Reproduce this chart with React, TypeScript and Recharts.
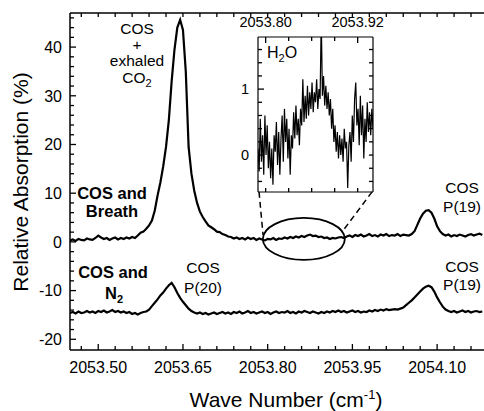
import React from "react";
import { LineChart, Line, XAxis, YAxis, ReferenceDot, ReferenceLine } from "recharts";

const FONT = '"Liberation Sans", Arial, Helvetica, sans-serif';

// main spectrum: evenly sampled wave numbers
const WAVE_START = 2053.45;
const WAVE_STEP = 0.005;

// COS + breath trace (%)
const breath = [
  0.3, 0.5, 0.2, 0.6, 0.4, 0.3, 0.7, 0.5, 0.4, 0.8,
  1.3, 0.9, 0.6, 0.8, 0.4, 0.7, 0.9, 0.5, 0.8, 0.6,
  0.9, 0.7, 1.0, 0.8, 1.3,
  1.9, 2.1, 2.7, 3.4, 4.4, 6.4, 9.5, 12.2, 15.5, 19.5,
  25, 33, 39.5, 44, 45.6, 43.5, 35, 19.5, 14, 10.5,
  8, 6.2, 5.1, 4.2, 3.4, 3.0, 2.6, 2.1, 2.0, 1.6,
  1.4, 1.1, 1.0, 0.7, 0.9, 0.6, 0.8, 0.5, 0.9, 0.6,
  0.8, 0.4, 0.7, 0.5, 0.3, 0.6, 0.5, 0.8, 0.4, 0.7,
  0.6, 0.9, 0.7, 1.0, 0.8, 1.1, 0.9, 1.2, 1.0, 1.3,
  1.5, 1.2, 1.3, 1.0, 1.1, 0.8, 0.9, 0.6, 0.8, 0.7,
  0.9, 1.0, 0.8, 1.1, 1.3, 1.0, 1.4, 1.2, 1.5, 1.1,
  1.3, 1.6, 1.2, 1.4, 1.1, 1.5, 1.3, 1.6, 1.2, 1.4,
  1.3, 1.6, 1.2, 1.5, 1.4, 1.3,
  1.6, 2.2, 3.5, 4.8, 5.8, 6.4, 6.5, 6.0, 4.8, 3.2, 2.2, 1.6,
  1.3, 1.5, 1.1, 1.4, 1.2, 1.5, 1.3, 1.1, 1.4, 1.6, 1.3, 1.5, 1.7, 1.4,
];

// COS + N2 trace (%)
const nitrogen = [
  -14.6, -14.4, -14.7, -14.3, -14.6, -14.5, -14.2, -14.5, -14.3, -14.6,
  -14.2, -14.4, -14.1, -14.5, -14.3, -14.0, -14.4, -14.2, -14.5, -14.3,
  -14.6, -14.4, -14.8, -14.6, -14.9, -14.6,
  -14.4, -14.3, -13.9, -13.2, -12.5, -11.8, -11.0, -10.4, -9.6, -8.9,
  -8.4, -9.3, -10.5, -11.5, -12.3, -13.0, -13.7, -14.2, -14.5, -14.7,
  -14.5, -14.8, -14.6, -14.9, -14.7, -14.5, -14.8, -14.6, -14.4, -14.7,
  -14.5, -14.8, -14.4, -14.6, -14.3, -14.7, -14.5, -14.2, -14.6, -14.4,
  -14.7, -14.5, -14.3, -14.6, -14.4, -14.8, -14.5, -14.3, -14.6, -14.4,
  -14.5, -14.2, -14.6, -14.4, -14.7, -14.3, -14.5, -14.2, -14.4, -14.6,
  -14.3, -14.5, -14.7, -14.4, -14.6, -14.3, -14.5, -14.2, -14.4, -14.1,
  -14.4, -14.2, -14.5, -14.3, -14.1, -14.4, -14.2, -14.5, -14.3, -14.4,
  -14.1, -14.3, -14.0, -14.2, -13.9, -14.1, -13.8, -14.0, -13.9, -13.8, -13.9,
  -13.7, -13.5, -13.0, -12.5, -12.0, -11.4, -10.8, -10.2, -9.6, -9.2, -9.0, -9.3,
  -10.2, -11.4, -12.4, -13.3, -13.9, -14.2,
  -14.4, -14.2, -14.5, -14.3, -14.1, -14.4, -14.2, -14.5, -14.3, -14.2, -14.4, -14.3,
];

// inset: H2O line, zoomed
const INSET_START = 2053.79;
const INSET_STEP = 0.0015;
const water = [
  0.1, -0.25, 0.55, -0.1, 0.3, -0.3, 0.6, 0.0, 0.45, -0.2,
  0.2, -0.35, 0.1, -0.45, 0.3, 0.05, 0.5, -0.15, 0.35, -0.3,
  0.25, 0.6, -0.1, 0.7, 0.2, 0.55, -0.05, 0.4, -0.3, 0.3,
  0.1, 0.65, 0.25, 0.75, 0.3, 0.55, 0.15, 0.7, 0.45, 1.15,
  0.5, 0.9, 0.55, 1.05, 0.6, 0.95, 0.7, 1.1, 0.65, 0.95,
  0.8, 1.15, 0.7, 1.0, 0.85, 2.1, 0.9, 1.2, 0.75, 1.05,
  0.7, 0.95, 0.6, 0.85, 0.4, 0.7, 0.2, 0.45, 0.05, 0.35,
  -0.05, 0.3, 0.0, 0.25, -0.1, 0.4, 0.1, 0.2, -0.5, 0.15,
  0.35, -0.1, 0.6, 0.2, 0.85, 1.1, 0.45, 0.7, 0.15, 0.9,
  0.3, 0.75, -0.05, 0.55, 0.2, 0.8, 0.35, 0.65, 0.3, 0.7, 0.4,
];

const X_DOMAIN = [2053.45, 2054.183];
const Y_DOMAIN = [-22.2, 47.0];
const X_TICKS = [
  2053.47, 2053.5, 2053.53, 2053.56, 2053.59, 2053.62, 2053.65, 2053.68,
  2053.71, 2053.74, 2053.77, 2053.8, 2053.83, 2053.86, 2053.89, 2053.92,
  2053.95, 2053.98, 2054.01, 2054.04, 2054.07, 2054.1, 2054.13, 2054.16,
];
const X_LABELS = [2053.5, 2053.65, 2053.8, 2053.95, 2054.1];
const Y_TICKS = [
  -20, -18, -16, -14, -12, -10, -8, -6, -4, -2, 0, 2, 4, 6, 8, 10, 12, 14, 16,
  18, 20, 22, 24, 26, 28, 30, 32, 34, 36, 38, 40, 42, 44, 46,
];
const Y_LABELS = [-20, -10, 0, 10, 20, 30, 40];

const INSET_X_DOMAIN = [2053.79, 2053.94];
const INSET_Y_DOMAIN = [-0.56, 1.79];
const INSET_X_TICKS = [2053.8, 2053.83, 2053.86, 2053.89, 2053.92];
const INSET_X_LABELS = [2053.8, 2053.92];
const INSET_Y_TICKS = [-0.4, -0.2, 0, 0.2, 0.4, 0.6, 0.8, 1, 1.2, 1.4, 1.6];
const INSET_Y_LABELS = [0, 1];

// zoom ellipse and connector lines (data coords)
const ELLIPSE_CENTER = { x: 2053.864, y: 0.6 };
const CONNECTORS = [
  [{ x: 2053.7847, y: 10.27 }, { x: 2053.7918, y: 1.44 }],
  [{ x: 2053.9848, y: 10.27 }, { x: 2053.9317, y: 2.05 }],
];

const mainRows = breath.map((b, i) => ({
  x: WAVE_START + i * WAVE_STEP,
  breath: b,
  n2: nitrogen[i],
}));
const insetRows = water.map((w, i) => ({ x: INSET_START + i * INSET_STEP, h2o: w }));

const has = (list: number[], v: number) => list.some((l) => Math.abs(l - v) < 1e-6);

function makeXTick(dir: number, labels: number[] | null, fontSize: number, labelOffset: number) {
  return (props: any) => {
    const { x, y, payload } = props;
    const major = labels ? has(labels, payload.value) : false;
    const len = major ? 6 : 4;
    return (
      <g>
        <line x1={x} x2={x} y1={y} y2={y + dir * len} stroke="#000" strokeWidth={1.3} />
        {major && (
          <text x={x} y={y + labelOffset} textAnchor="middle" fontSize={fontSize} fontFamily={FONT} fill="#000">
            {payload.value.toFixed(2)}
          </text>
        )}
      </g>
    );
  };
}

function makeYTick(dir: number, labels: number[] | null, fontSize: number, gap: number) {
  return (props: any) => {
    const { x, y, payload } = props;
    const major = labels ? has(labels, payload.value) : false;
    const len = major ? 6 : 4;
    return (
      <g>
        <line x1={x} x2={x + dir * len} y1={y} y2={y} stroke="#000" strokeWidth={1.3} />
        {major && (
          <text x={x - gap} y={y + fontSize * 0.36} textAnchor="end" fontSize={fontSize} fontFamily={FONT} fill="#000">
            {payload.value}
          </text>
        )}
      </g>
    );
  };
}

function Note({ x, y, children, bold = false, size = 15.5 }: any) {
  return (
    <div
      style={{
        position: "absolute",
        left: x,
        top: y,
        transform: "translate(-50%, -50%)",
        fontFamily: FONT,
        fontSize: size,
        fontWeight: bold ? 700 : 400,
        lineHeight: 1,
        whiteSpace: "nowrap",
        color: "#000",
      }}
    >
      {children}
    </div>
  );
}

const axisStroke = { stroke: "#000", strokeWidth: 1.5 };
const insetStroke = { stroke: "#000", strokeWidth: 1.2 };

export default function App() {
  return (
    <div style={{ position: "fixed", left: 0, top: 0, width: 484, height: 411, background: "#fff", overflow: "hidden" }}>
      <div style={{ position: "absolute", left: 0, top: 0 }}>
        <LineChart width={484} height={411} data={mainRows} margin={{ top: 12, right: 0, bottom: 0, left: 0 }}>
          <XAxis
            type="number"
            dataKey="x"
            domain={X_DOMAIN}
            allowDataOverflow
            ticks={X_TICKS}
            interval={0}
            height={61}
            tickSize={0}
            tickMargin={0}
            tickLine={false}
            axisLine={axisStroke}
            tick={makeXTick(-1, X_LABELS, 16, 23)}
          />
          <XAxis
            xAxisId="top"
            orientation="top"
            type="number"
            dataKey="x"
            domain={X_DOMAIN}
            allowDataOverflow
            ticks={X_TICKS}
            interval={0}
            height={1}
            tickSize={0}
            tickMargin={0}
            tickLine={false}
            axisLine={axisStroke}
            tick={makeXTick(1, null, 16, 0)}
          />
          <YAxis
            type="number"
            domain={Y_DOMAIN}
            allowDataOverflow
            ticks={Y_TICKS}
            interval={0}
            width={70}
            tickSize={0}
            tickMargin={0}
            tickLine={false}
            axisLine={axisStroke}
            tick={makeYTick(1, Y_LABELS, 16, 8)}
          />
          <Line dataKey="breath" type="linear" stroke="#000" strokeWidth={2.2} dot={false} activeDot={false} isAnimationActive={false} />
          <Line dataKey="n2" type="linear" stroke="#000" strokeWidth={2.2} dot={false} activeDot={false} isAnimationActive={false} />
          <ReferenceDot
            x={ELLIPSE_CENTER.x}
            y={ELLIPSE_CENTER.y}
            r={0}
            ifOverflow="visible"
            shape={(p: any) => <ellipse cx={p.cx} cy={p.cy} rx={41} ry={21} fill="none" stroke="#000" strokeWidth={1.8} />}
          />
          {CONNECTORS.map((seg, i) => (
            <ReferenceLine key={i} segment={seg} stroke="#000" strokeWidth={1.5} strokeDasharray="6 4" ifOverflow="visible" />
          ))}
        </LineChart>
      </div>

      <div style={{ position: "absolute", left: 228, top: 8 }}>
        <LineChart width={180} height={189} data={insetRows} margin={{ top: 28, right: 34, bottom: 4, left: 0 }}>
          <XAxis
            xAxisId="t"
            orientation="top"
            type="number"
            dataKey="x"
            domain={INSET_X_DOMAIN}
            allowDataOverflow
            ticks={INSET_X_TICKS}
            interval={0}
            height={1}
            tickSize={0}
            tickMargin={0}
            tickLine={false}
            axisLine={insetStroke}
            tick={makeXTick(1, INSET_X_LABELS, 14.5, -10)}
          />
          <XAxis
            xAxisId="b"
            orientation="bottom"
            type="number"
            dataKey="x"
            domain={INSET_X_DOMAIN}
            allowDataOverflow
            ticks={INSET_X_TICKS}
            interval={0}
            height={1}
            tickSize={0}
            tickMargin={0}
            tickLine={false}
            axisLine={insetStroke}
            tick={makeXTick(-1, null, 14.5, 0)}
          />
          <YAxis
            yAxisId="l"
            type="number"
            domain={INSET_Y_DOMAIN}
            allowDataOverflow
            ticks={INSET_Y_TICKS}
            interval={0}
            width={30}
            tickSize={0}
            tickMargin={0}
            tickLine={false}
            axisLine={insetStroke}
            tick={makeYTick(1, INSET_Y_LABELS, 14.5, 9)}
          />
          <YAxis
            yAxisId="r"
            orientation="right"
            type="number"
            domain={INSET_Y_DOMAIN}
            allowDataOverflow
            ticks={INSET_Y_TICKS}
            interval={0}
            width={1}
            tickSize={0}
            tickMargin={0}
            tickLine={false}
            axisLine={insetStroke}
            tick={makeYTick(-1, null, 14.5, 0)}
          />
          <Line xAxisId="t" yAxisId="l" dataKey="h2o" type="linear" stroke="#000" strokeWidth={1.2} dot={false} activeDot={false} isAnimationActive={false} />
        </LineChart>
      </div>

      <Note x={137} y={29}>COS</Note>
      <Note x={137} y={45}>+</Note>
      <Note x={137} y={61}>exhaled</Note>
      <Note x={137} y={78}>
        CO<sub style={{ fontSize: 11, verticalAlign: "-4px", lineHeight: 0 }}>2</sub>
      </Note>
      <Note x={112} y={193} bold size={16.5}>COS and</Note>
      <Note x={112} y={211} bold size={16.5}>Breath</Note>
      <Note x={113} y={272} bold size={16.5}>COS and</Note>
      <Note x={114} y={293} bold size={16.5}>
        N<sub style={{ fontSize: 11, verticalAlign: "-4px", lineHeight: 0 }}>2</sub>
      </Note>
      <Note x={203} y={268}>COS</Note>
      <Note x={203} y={288}>P(20)</Note>
      <Note x={462} y={188}>COS</Note>
      <Note x={462} y={207}>P(19)</Note>
      <Note x={462} y={267}>COS</Note>
      <Note x={462} y={285}>P(19)</Note>
      <div style={{ position: "absolute", left: 267, top: 45, fontFamily: FONT, fontSize: 16, lineHeight: 1 }}>
        H<sub style={{ fontSize: 11, verticalAlign: "-4px", lineHeight: 0 }}>2</sub>O
      </div>

      <div
        style={{
          position: "absolute",
          left: 20,
          top: 182,
          transform: "translate(-50%, -50%) rotate(-90deg)",
          fontFamily: FONT,
          fontSize: 21,
          whiteSpace: "nowrap",
          lineHeight: 1,
        }}
      >
        Relative Absorption (%)
      </div>
      <div
        style={{
          position: "absolute",
          left: 286,
          top: 399,
          transform: "translate(-50%, -50%)",
          fontFamily: FONT,
          fontSize: 21,
          whiteSpace: "nowrap",
          lineHeight: 1,
        }}
      >
        Wave Number (cm<sup style={{ fontSize: 13, verticalAlign: "8px", lineHeight: 0 }}>-1</sup>)
      </div>
    </div>
  );
}
